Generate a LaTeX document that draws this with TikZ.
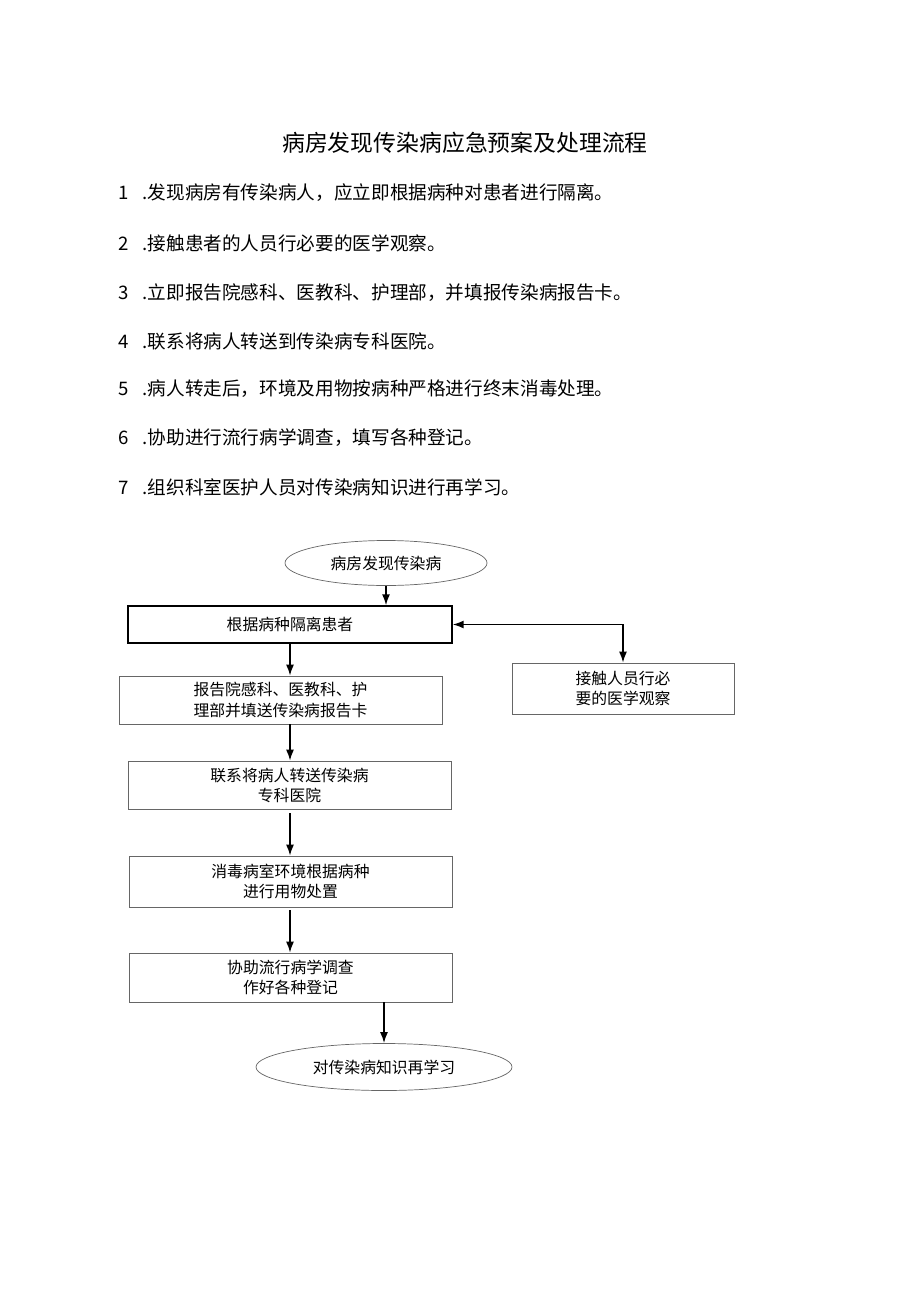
\documentclass[tikz,border=0pt]{standalone}
\usepackage{fontspec}
\setmainfont{Noto Sans CJK SC}
\usetikzlibrary{shapes.geometric,arrows.meta}
\tikzstyle{box}=[rectangle,draw=black!60,fill=white,text=black,align=center,inner sep=0pt,font=\fontsize{9}{11.4}\selectfont]
\tikzstyle{oval}=[ellipse,draw=black!60,fill=white,text=black,inner sep=0pt,font=\fontsize{9}{11.4}\selectfont]
\tikzstyle{item}=[anchor=west,inner sep=0pt,font=\fontsize{10.6}{13}\selectfont]
\tikzstyle{child}=[-{Latex[length=2.2mm,width=1.6mm]},line width=0.9pt]
\tikzstyle{childB}=[{Latex[length=2.2mm,width=1.6mm]}-{Latex[length=2.2mm,width=1.6mm]},line width=0.9pt]

\begin{document}
\begin{tikzpicture}[x=0.2mm,y=-0.2mm]
  \useasboundingbox (0,0) rectangle (920,1301);

  \node[font=\fontsize{13}{16}\selectfont] (T) at (465,143) {病房发现传染病应急预案及处理流程};
  \node[item] (L1) at (118,193) {1\hspace{0.75em}.发现病房有传染病人，应立即根据病种对患者进行隔离。};
  \node[item] (L2) at (118,243) {2\hspace{0.75em}.接触患者的人员行必要的医学观察。};
  \node[item] (L3) at (118,293) {3\hspace{0.75em}.立即报告院感科、医教科、护理部，并填报传染病报告卡。};
  \node[item] (L4) at (118,341) {4\hspace{0.75em}.联系将病人转送到传染病专科医院。};
  \node[item] (L5) at (118,389) {5\hspace{0.75em}.病人转走后，环境及用物按病种严格进行终末消毒处理。};
  \node[item] (L6) at (118,438) {6\hspace{0.75em}.协助进行流行病学调查，填写各种登记。};
  \node[item] (L7) at (118,487) {7\hspace{0.75em}.组织科室医护人员对传染病知识进行再学习。};

  \node[oval,minimum width=40.4mm,minimum height=9mm] (E1) at (386,563) {病房发现传染病};
  \node[box,draw=black,thick,minimum width=64.8mm,minimum height=7.4mm] (B1) at (290,624.5) {根据病种隔离患者};
  \node[box,minimum width=44.4mm,minimum height=10.2mm] (R) at (623,688.5) {接触人员行必\\要的医学观察};
  \node[box,minimum width=64.6mm,minimum height=9.6mm] (B2) at (280.5,700) {报告院感科、医教科、护\\理部并填送传染病报告卡};
  \node[box,minimum width=64.6mm,minimum height=9.6mm] (B3) at (289.5,785) {联系将病人转送传染病\\专科医院};
  \node[box,minimum width=64.6mm,minimum height=10.2mm] (B4) at (290.5,881.5) {消毒病室环境根据病种\\进行用物处置};
  \node[box,minimum width=64.6mm,minimum height=9.8mm] (B5) at (290.5,977.5) {协助流行病学调查\\作好各种登记};
  \node[oval,minimum width=51.2mm,minimum height=9.4mm] (E2) at (384,1067) {对传染病知识再学习};

  \draw[child] (E1.south) -- (E1.south |- B1.north);
  \draw[childB] (B1.east) -| (R.north);
  \draw[child] (B1.south) -- (B1.south |- B2.north);
  \draw[child] (B1.south |- B2.south) -- (B1.south |- B3.north);
  \draw[child] (B1.south |- B3.south) ++(0,4) -- (B1.south |- B4.north);
  \draw[child] (B1.south |- B4.south) ++(0,3) -- (B1.south |- B5.north);
  \draw[child] (E2.north |- B5.south) -- (E2.north);

\end{tikzpicture}
\end{document}
